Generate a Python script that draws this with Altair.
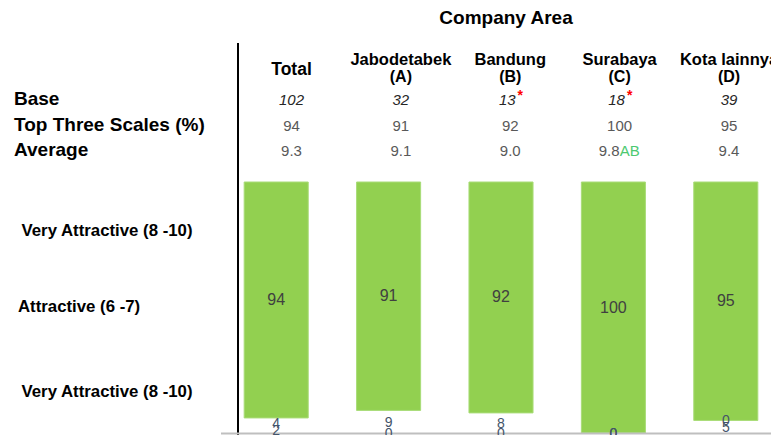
import altair as alt
import pandas as pd

# ---------------- data ----------------
categories = ["Total", "Jabodetabek", "Bandung", "Surabaya", "Kota lainnya"]
codes = ["", "(A)", "(B)", "(C)", "(D)"]
base_n = [102, 32, 13, 18, 39]
low_base = [False, False, True, True, False]
top_three = [94, 91, 92, 100, 95]
average = [9.3, 9.1, 9.0, 9.8, 9.4]
sig_letters = ["", "", "", "AB", ""]
seg_very = [94, 91, 92, 100, 95]
seg_attr = [4, 9, 8, 0, 0]
seg_low = [2, 0, 0, 0, 5]
row_labels = ["Base", "Top Three Scales (%)", "Average"]
side_labels = ["Very Attractive (8 -10)", "Attractive (6 -7)", "Very Attractive (8 -10)"]
title_text = "Company Area"

# ---------------- tables ----------------
cols = pd.DataFrame({
    "cat": categories, "code": codes, "base": base_n, "low": low_base,
    "top3": top_three, "avg": average, "sig": sig_letters,
})
segs = []
for i, c in enumerate(categories):
    for s, v in enumerate([seg_very[i], seg_attr[i], seg_low[i]]):
        segs.append({"cat": c, "seg": s, "value": v})
segs = pd.DataFrame(segs)
one = pd.DataFrame({"k": [0]})

FONT = "Liberation Sans"

# bar scales
xb = alt.X("cat:N", sort=categories, axis=None,
           scale=alt.Scale(domain=categories, range=[212, 774],
                           paddingInner=0.43, paddingOuter=0.215))
ysc = alt.Scale(domain=[0, 100], range=[174, 425])

stacked = alt.Chart(segs).transform_stack(
    stack="value", groupby=["cat"], as_=["v0", "v1"],
    sort=[alt.SortField("seg", order="ascending")]
).transform_calculate(mid="(datum.v0 + datum.v1) / 2")

bars = stacked.transform_filter("datum.seg == 0").mark_bar(
    color="#92D050", stroke="#A9DC78", strokeWidth=1
).encode(x=xb, y=alt.Y("v0:Q", scale=ysc, axis=None), y2="v1:Q")

bar_lab = stacked.transform_filter("datum.seg == 0").mark_text(
    font=FONT, fontSize=16, color="#404040", baseline="middle"
).encode(x=xb, y=alt.Y("mid:Q", scale=ysc, axis=None), text="value:Q")

small_lab = stacked.transform_filter("datum.seg > 0").mark_text(
    font=FONT, fontSize=14, color="#44546A", baseline="middle", dy=1
).encode(x=xb, y=alt.Y("mid:Q", scale=ysc, axis=None), text="value:Q")

# header columns scale
xh = alt.X("cat:N", sort=categories, axis=None,
           scale=alt.Scale(type="point", domain=categories, range=[283.5, 721], padding=0))

hdr = alt.Chart(cols)
h_total = hdr.transform_filter("datum.code == ''").mark_text(
    font=FONT, fontSize=17.5, fontWeight="bold", color="#000000", y=62, baseline="middle"
).encode(x=xh, text="cat:N")
h_line1 = hdr.transform_filter("datum.code != ''").mark_text(
    font=FONT, fontSize=16.5, fontWeight="bold", color="#000000", y=52, baseline="middle"
).encode(x=xh, text="cat:N")
h_line2 = hdr.transform_filter("datum.code != ''").mark_text(
    font=FONT, fontSize=16, fontWeight="bold", color="#000000", y=69, baseline="middle"
).encode(x=xh, text="code:N")

base_plain = hdr.transform_filter("!datum.low").mark_text(
    font=FONT, fontSize=15, fontStyle="italic", color="#262626", y=92, baseline="middle"
).encode(x=xh, text="base:Q")
base_low = hdr.transform_filter("datum.low").mark_text(
    font=FONT, fontSize=15, fontStyle="italic", color="#262626", y=92, dx=-3, baseline="middle"
).encode(x=xh, text="base:Q")
star = hdr.transform_filter("datum.low").transform_calculate(st="'*'").mark_text(
    font=FONT, fontSize=14, fontWeight="bold", color="#FF0000", y=88, dx=10, baseline="middle"
).encode(x=xh, text="st:N")

tts = hdr.mark_text(
    font=FONT, fontSize=15, color="#595959", y=118, baseline="middle"
).encode(x=xh, text="top3:Q")

avg_plain = hdr.transform_filter("datum.sig == ''").mark_text(
    font=FONT, fontSize=15, color="#595959", y=143, baseline="middle"
).encode(x=xh, text=alt.Text("avg:Q", format=".1f"))
avg_sig_num = hdr.transform_filter("datum.sig != ''").mark_text(
    font=FONT, fontSize=15, color="#595959", y=143, align="right", baseline="middle"
).encode(x=xh, text=alt.Text("avg:Q", format=".1f"))
avg_sig = hdr.transform_filter("datum.sig != ''").mark_text(
    font=FONT, fontSize=15, color="#4CC970", y=143, align="left", baseline="middle"
).encode(x=xh, text="sig:N")

# left row labels
row_df = pd.DataFrame({"lab": row_labels, "i": [0, 1, 2]})
row_layers = []
for i, yy in enumerate([91, 117, 142]):
    row_layers.append(
        alt.Chart(row_df).transform_filter(f"datum.i == {i}").mark_text(
            font=FONT, fontSize=19, fontWeight="bold", color="#000000",
            align="left", baseline="middle", x=6, y=yy
        ).encode(text="lab:N")
    )

side_df = pd.DataFrame({"lab": side_labels, "i": [0, 1, 2]})
side_layers = []
for i, (xx, yy) in enumerate([(13.5, 223), (10, 299), (13.5, 384)]):
    side_layers.append(
        alt.Chart(side_df).transform_filter(f"datum.i == {i}").mark_text(
            font=FONT, fontSize=16.8, fontWeight="bold", color="#000000",
            align="left", baseline="middle", x=xx, y=yy
        ).encode(text="lab:N")
    )

title = alt.Chart(pd.DataFrame({"t": [title_text]})).mark_text(
    font=FONT, fontSize=19, fontWeight="bold", color="#000000",
    align="center", baseline="middle", x=498, y=10
).encode(text="t:N")

vline = alt.Chart(one).mark_rule(color="#000000", strokeWidth=2).encode(
    x=alt.value(230), y=alt.value(35), y2=alt.value(427))
hline = alt.Chart(one).mark_rule(color="#BFBFBF", strokeWidth=2).encode(
    x=alt.value(213), x2=alt.value(771), y=alt.value(425.5))

chart = alt.layer(
    vline, bars, hline, bar_lab, small_lab,
    h_total, h_line1, h_line2, base_plain, base_low, star, tts,
    avg_plain, avg_sig_num, avg_sig, title, *row_layers, *side_layers
).resolve_scale(x="independent").properties(
    width=763, height=427, autosize=alt.AutoSizeParams(type="none"),
    padding={"left": 0, "top": 0, "right": 0, "bottom": 0}
).configure_view(stroke=None)

chart.save("out.html", embed_options={"renderer": "svg", "actions": False})
